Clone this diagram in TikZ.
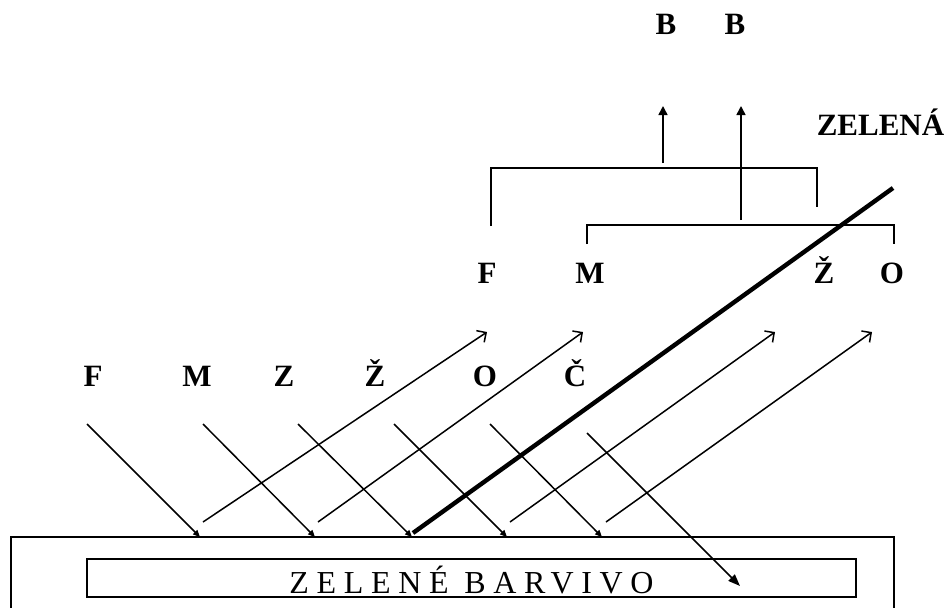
\documentclass[tikz,border=0pt]{standalone}
\usepackage{fontspec}
\setmainfont{Liberation Serif}
\usetikzlibrary{arrows.meta}
\begin{document}
\begin{tikzpicture}[x=0.5pt,y=-0.5pt,
  lbl/.style={font=\fontsize{15.5}{18}\selectfont\bfseries, inner sep=0pt, anchor=base},
  dye/.style={font=\fontsize{16}{19}\selectfont\addfontfeature{LetterSpace=24}, inner sep=0pt, anchor=base},
  ray/.style={line width=0.75pt},
  inc/.style={ray,-{Triangle[length=3.5pt,width=3pt]}},
  deep/.style={ray,-{Triangle[length=6pt,width=4.5pt]}},
  refl/.style={ray,-{Straight Barb[length=3.5pt,width=7pt]}},
  brk/.style={line width=1pt},
  uparr/.style={line width=0.8pt,-{Triangle[length=4.5pt,width=4.5pt]}},
  green/.style={line width=2.2pt},
  box/.style={line width=1pt},
  inbox/.style={line width=1.3pt}]
\useasboundingbox (0,0) rectangle (949,607);

% top labels
\node[lbl] (B1) at (666,34) {B};
\node[lbl] (B2) at (735,34) {B};
\node[lbl] (zel) at (880.5,135) {ZELENÁ};

% upper labels
\node[lbl] (uF) at (487,283) {F};
\node[lbl] (uM) at (590,283) {M};
\node[lbl] (uZ) at (824,283) {Ž};
\node[lbl] (uO) at (892,283) {O};

% row labels
\node[lbl] (lF) at (93,386) {F};
\node[lbl] (lM) at (197,386) {M};
\node[lbl] (lZ) at (284,386) {Z};
\node[lbl] (lZc) at (375,386) {Ž};
\node[lbl] (lO) at (485,386) {O};
\node[lbl] (lC) at (575,386) {Č};

% brackets
\coordinate (b1a) at (491,226); \coordinate (b1b) at (491,168);
\coordinate (b1c) at (817,168); \coordinate (b1d) at (817,207);
\draw[brk] (b1a) -- (b1b) -- (b1c) -- (b1d);
\coordinate (b2a) at (587,244); \coordinate (b2b) at (587,225);
\coordinate (b2c) at (894,225); \coordinate (b2d) at (894,244);
\draw[brk] (b2a) -- (b2b) -- (b2c) -- (b2d);

% up arrows
\coordinate (u1s) at (663,163); \coordinate (u1e) at (663,106);
\coordinate (u2s) at (741,220); \coordinate (u2e) at (741,106);
\draw[uparr] (u1s) -- (u1e);
\draw[uparr] (u2s) -- (u2e);

% surface (outer box) and dye box
\coordinate (s1) at (11,612); \coordinate (s2) at (11,537);
\coordinate (s3) at (894,537); \coordinate (s4) at (894,612);
\draw[box] (s1) -- (s2) -- (s3) -- (s4);
\draw[inbox] (87,559) rectangle (856,597);
\node[dye] (dyeText) at (471.5,593) {ZELENÉ BARVIVO};

% incident rays
\coordinate (i1s) at (87,424);  \coordinate (i1e) at (200,537);
\coordinate (i2s) at (203,424); \coordinate (i2e) at (315,537);
\coordinate (i3s) at (298,424); \coordinate (i3e) at (412,537);
\coordinate (i4s) at (394,424); \coordinate (i4e) at (507,537);
\coordinate (i5s) at (490,424); \coordinate (i5e) at (602,537);
\coordinate (i6s) at (587,433); \coordinate (i6e) at (740,586);
\draw[inc] (i1s) -- (i1e);
\draw[inc] (i2s) -- (i2e);
\draw[inc] (i3s) -- (i3e);
\draw[inc] (i4s) -- (i4e);
\draw[inc] (i5s) -- (i5e);
\draw[deep] (i6s) -- (i6e);

% reflected rays
\coordinate (r1s) at (203,522); \coordinate (r1e) at (487,332);
\coordinate (r2s) at (318,522); \coordinate (r2e) at (583,332);
\coordinate (r3s) at (510,522); \coordinate (r3e) at (775,332);
\coordinate (r4s) at (606,522); \coordinate (r4e) at (872,332);
\draw[refl] (r1s) -- (r1e);
\draw[refl] (r2s) -- (r2e);
\draw[refl] (r3s) -- (r3e);
\draw[refl] (r4s) -- (r4e);

% green reflected (thick)
\coordinate (gs) at (413,533); \coordinate (ge) at (893,188);
\draw[green] (gs) -- (ge);
\end{tikzpicture}
\end{document}
